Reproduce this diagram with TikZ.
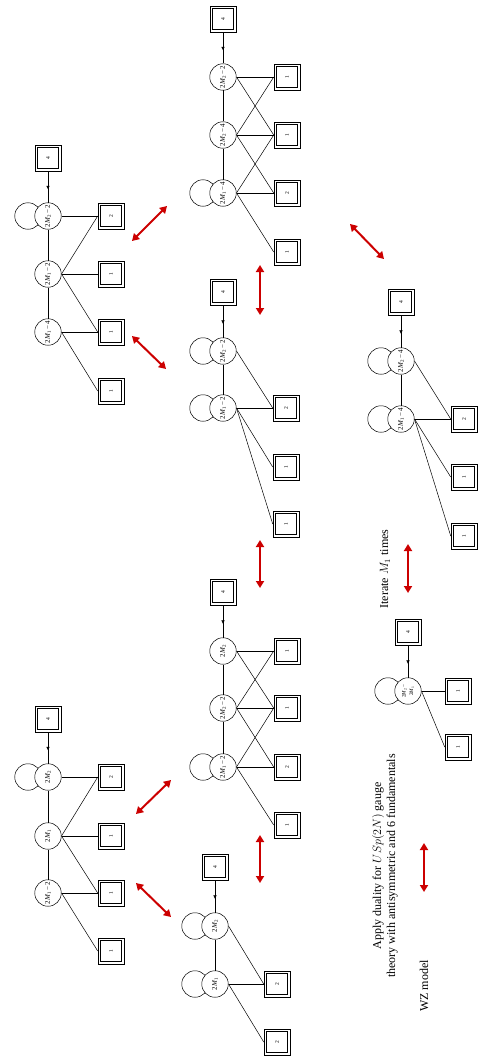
\documentclass[tikz,border=0pt]{standalone}
\usepackage{graphicx}
\usepackage{fontspec}
\setmainfont{Liberation Serif}
\usetikzlibrary{arrows.meta,decorations.markings}
\newcommand{\rtx}[1]{\rotatebox{90}{#1}}
\newcommand{\gl}[2]{2\textit{M}\textsubscript{#1}#2}
\definecolor{dred}{RGB}{204,0,0}
\begin{document}
\begin{tikzpicture}[x=1pt,y=-1pt,
  gauge/.style={circle,draw,fill=white,minimum size=26.5pt,inner sep=0pt,line width=0.5pt,font=\fontsize{7}{8}\selectfont},
  loopc/.style={circle,draw,minimum size=26.5pt,inner sep=0pt,line width=0.5pt},
  flav/.style={draw,line width=0.55pt,minimum size=26pt,inner sep=0pt,font=\fontsize{5.5}{6}\selectfont,
    path picture={\draw[line width=0.6pt] ([xshift=2.3pt,yshift=-2.3pt]path picture bounding box.north west) rectangle ([xshift=-2.3pt,yshift=2.3pt]path picture bounding box.south east);}},
  conn/.style={line width=0.5pt},
  midarrow/.style={line width=0.5pt,postaction={decorate},decoration={markings,mark=at position 0.58 with {\arrow{Latex[length=3.5pt,width=3.5pt]}}}},
  dual/.style={dred,line width=2pt,{Triangle[length=7pt,width=8pt]}-{Triangle[length=7pt,width=8pt]}},
  txt/.style={rotate=90,font=\fontsize{12}{14}\selectfont,align=center}
]
\useasboundingbox (0,0) rectangle (500,1062);

% ---------- Diagram A ----------
\node[loopc] (Al) at (28,216) {};
\node[gauge] (A1) at (48,216) {\rtx{\gl{2}{\,−\,2}}};
\node[gauge] (A2) at (48,274) {\rtx{\gl{1}{\,−\,2}}};
\node[gauge] (A3) at (48,332) {\rtx{\gl{1}{\,−\,4}}};
\node[flav] (Af) at (48,158) {\rtx{4}};
\node[flav] (Aq1) at (111,216) {\rtx{2}};
\node[flav] (Aq2) at (111,274) {\rtx{1}};
\node[flav] (Aq3) at (111,332) {\rtx{1}};
\node[flav] (Aq4) at (111,391) {\rtx{1}};
\draw[midarrow] (Af) -- (A1);
\draw[conn] (A1) -- (A2); \draw[conn] (A2) -- (A3);
\draw[conn] (A1.east) -- (Aq1.west);
\draw[conn] (A2.east) -- (Aq1.west);
\draw[conn] (A2.east) -- (Aq2.west);
\draw[conn] (A2.east) -- (Aq3.west);
\draw[conn] (A3.east) -- (Aq3.west);
\draw[conn] (A3.east) -- (Aq4.west);

% ---------- Diagram F ----------
\node[loopc] (Fl) at (28,777) {};
\node[gauge] (F1) at (48,777) {\rtx{\gl{2}{}}};
\node[gauge] (F2) at (48,836) {\rtx{\gl{1}{}}};
\node[gauge] (F3) at (48,893) {\rtx{\gl{1}{\,−\,2}}};
\node[flav] (Ff) at (48,719) {\rtx{4}};
\node[flav] (Fq1) at (111,777) {\rtx{2}};
\node[flav] (Fq2) at (111,836) {\rtx{1}};
\node[flav] (Fq3) at (111,893) {\rtx{1}};
\node[flav] (Fq4) at (111,951) {\rtx{1}};
\draw[midarrow] (Ff) -- (F1);
\draw[conn] (F1) -- (F2); \draw[conn] (F2) -- (F3);
\draw[conn] (F1.east) -- (Fq1.west);
\draw[conn] (F2.east) -- (Fq1.west);
\draw[conn] (F2.east) -- (Fq2.west);
\draw[conn] (F2.east) -- (Fq3.west);
\draw[conn] (F3.east) -- (Fq3.west);
\draw[conn] (F3.east) -- (Fq4.west);

% ---------- Diagram B ----------
\node[loopc] (Bl) at (203,193) {};
\node[gauge] (B1) at (223,77) {\rtx{\gl{2}{\,−\,2}}};
\node[gauge] (B2) at (223,135) {\rtx{\gl{2}{\,−\,4}}};
\node[gauge] (B3) at (223,193) {\rtx{\gl{1}{\,−\,4}}};
\node[flav] (Bf) at (223,19) {\rtx{4}};
\node[flav] (Bq1) at (287,77) {\rtx{1}};
\node[flav] (Bq2) at (287,135) {\rtx{1}};
\node[flav] (Bq3) at (287,193) {\rtx{2}};
\node[flav] (Bq4) at (287,252) {\rtx{1}};
\draw[midarrow] (Bf) -- (B1);
\draw[conn] (B1) -- (B2); \draw[conn] (B2) -- (B3);
\draw[conn] (B1.east) -- (Bq1.west);
\draw[conn] (B1.east) -- (Bq2.west);
\draw[conn] (B2.east) -- (Bq1.west);
\draw[conn] (B2.east) -- (Bq2.west);
\draw[conn] (B2.east) -- (Bq3.west);
\draw[conn] (B3.east) -- (Bq2.west);
\draw[conn] (B3.east) -- (Bq3.west);
\draw[conn] (B3.east) -- (Bq4.west);

% ---------- Diagram G ----------
\node[loopc] (Gl) at (203,767) {};
\node[gauge] (G1) at (223,651) {\rtx{\gl{2}{}}};
\node[gauge] (G2) at (223,708) {\rtx{\gl{2}{\,−\,2}}};
\node[gauge] (G3) at (223,767) {\rtx{\gl{1}{\,−\,2}}};
\node[flav] (Gf) at (223,592) {\rtx{4}};
\node[flav] (Gq1) at (287,651) {\rtx{1}};
\node[flav] (Gq2) at (287,708) {\rtx{1}};
\node[flav] (Gq3) at (287,767) {\rtx{2}};
\node[flav] (Gq4) at (287,825) {\rtx{1}};
\draw[midarrow] (Gf) -- (G1);
\draw[conn] (G1) -- (G2); \draw[conn] (G2) -- (G3);
\draw[conn] (G1.east) -- (Gq1.west);
\draw[conn] (G1.east) -- (Gq2.west);
\draw[conn] (G2.east) -- (Gq1.west);
\draw[conn] (G2.east) -- (Gq2.west);
\draw[conn] (G2.east) -- (Gq3.west);
\draw[conn] (G3.east) -- (Gq2.west);
\draw[conn] (G3.east) -- (Gq3.west);
\draw[conn] (G3.east) -- (Gq4.west);

% ---------- Diagram C ----------
\node[loopc] (Cl1) at (203,351) {};
\node[loopc] (Cl2) at (203,408) {};
\node[gauge] (C1) at (223,351) {\rtx{\gl{2}{\,−\,2}}};
\node[gauge] (C2) at (223,408) {\rtx{\gl{1}{\,−\,2}}};
\node[flav] (Cf) at (223,292) {\rtx{4}};
\node[flav] (Cq1) at (286,408) {\rtx{2}};
\node[flav] (Cq2) at (286,467) {\rtx{1}};
\node[flav] (Cq3) at (286,524) {\rtx{1}};
\draw[midarrow] (Cf) -- (C1);
\draw[conn] (C1) -- (C2);
\draw[conn] (C1.east) -- (Cq1.west);
\draw[conn] (C2.east) -- (Cq1.west);
\draw[conn] (C2.east) -- (Cq2.west);
\draw[conn] (C2.east) -- (Cq3.west);

% ---------- Diagram E ----------
\node[loopc] (El1) at (381,361) {};
\node[loopc] (El2) at (381,419) {};
\node[gauge] (E1) at (401,361) {\rtx{\gl{2}{\,−\,4}}};
\node[gauge] (E2) at (401,419) {\rtx{\gl{1}{\,−\,4}}};
\node[flav] (Ef) at (401,302) {\rtx{4}};
\node[flav] (Eq1) at (464,419) {\rtx{2}};
\node[flav] (Eq2) at (464,477) {\rtx{1}};
\node[flav] (Eq3) at (464,536) {\rtx{1}};
\draw[midarrow] (Ef) -- (E1);
\draw[conn] (E1) -- (E2);
\draw[conn] (E1.east) -- (Eq1.west);
\draw[conn] (E2.east) -- (Eq1.west);
\draw[conn] (E2.east) -- (Eq2.west);
\draw[conn] (E2.east) -- (Eq3.west);

% ---------- Diagram H ----------
\node[loopc] (Hl1) at (195,926) {};
\node[loopc] (Hl2) at (195,984) {};
\node[gauge] (H1) at (215,926) {\rtx{\gl{2}{}}};
\node[gauge] (H2) at (215,984) {\rtx{\gl{1}{}}};
\node[flav] (Hf) at (215,867) {\rtx{4}};
\node[flav] (Hq1) at (277,984) {\rtx{2}};
\node[flav] (Hq2) at (277,1042) {\rtx{2}};
\draw[midarrow] (Hf) -- (H1);
\draw[conn] (H1) -- (H2);
\draw[conn] (H1.east) -- (Hq1.west);
\draw[conn] (H2.east) -- (Hq1.west);
\draw[conn] (H2.east) -- (Hq2.west);

% ---------- Diagram I ----------
\node[loopc] (Il) at (388,691) {};
\node[gauge,font=\fontsize{5.3}{6}\selectfont] (I1) at (408,691) {\rtx{\shortstack{\gl{2}{\,−}\\\gl{1}{}}}};
\node[flav] (If) at (408,632) {\rtx{4}};
\node[flav] (Iq1) at (458,691) {\rtx{1}};
\node[flav] (Iq2) at (458,747) {\rtx{1}};
\draw[midarrow] (If) -- (I1);
\draw[conn] (I1.east) -- (Iq1.west);
\draw[conn] (I1.east) -- (Iq2.west);

% ---------- texts ----------
\node[txt] (iter) at (385,569) {Iterate $M_1$ times};
\node[txt] (apply) at (385,866) {Apply duality for $USp(2N)$ gauge\\theory with antisymmetric and 6 fundamentals};
\node[txt] (wz) at (424,986) {WZ model};

% ---------- duality arrows ----------
\coordinate (r1a) at (132,241); \coordinate (r1b) at (167,206);
\coordinate (r2a) at (132,336); \coordinate (r2b) at (166,369);
\coordinate (r3a) at (136,814); \coordinate (r3b) at (171,780);
\coordinate (r4a) at (136,883); \coordinate (r4b) at (171,917);
\coordinate (r5a) at (350,224); \coordinate (r5b) at (384,259);
\coordinate (v1a) at (260,265); \coordinate (v1b) at (260,315);
\coordinate (v2a) at (260,540); \coordinate (v2b) at (260,588);
\coordinate (v3a) at (260,835); \coordinate (v3b) at (260,883);
\coordinate (v4a) at (408,544); \coordinate (v4b) at (408,593);
\coordinate (v5a) at (424,843); \coordinate (v5b) at (424,892);
\foreach \p in {r1,r2,r3,r4,r5,v1,v2,v3,v4,v5} \draw[dual] (\p a) -- (\p b);
\end{tikzpicture}
\end{document}
